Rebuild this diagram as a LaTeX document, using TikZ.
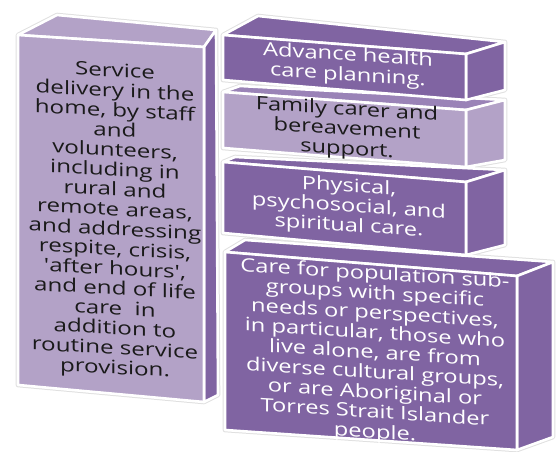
\documentclass[tikz,border=0pt]{standalone}
\usepackage{fontspec}
\setmainfont{Open Sans}
\definecolor{dkp}{HTML}{8064A2}
\definecolor{ltp}{HTML}{B3A2C7}
\definecolor{mdp}{HTML}{9A83B7}
\definecolor{txtdark}{HTML}{1A1A1A}
\begin{document}
\begin{tikzpicture}[x=1pt,y=-1pt,
  face/.style={draw=white, line width=2.6pt, line join=round},
  glow/.style={draw=black!12, line width=4.6pt, line join=round},
  txt/.style={align=center, inner sep=0pt, font=\fontsize{18.5}{19.8}\selectfont, yslant=-0.063, xscale=1.28},
  wtxt/.style={txt, text=white},
  btxt/.style={txt, text=txtdark}]
\useasboundingbox (0,0) rectangle (558,452);
% faint outer glow
\foreach \p in {
  {(18,35) -- (57,15) -- (216,30) -- (218,395) -- (204,402) -- (18,385) -- cycle},
  {(223,35) -- (258,16) -- (505,42) -- (505,90) -- (466,100) -- (223,80) -- cycle},
  {(223,92) -- (240,86) -- (505,100) -- (505,160) -- (466,167) -- (223,148) -- cycle},
  {(223,162) -- (235,157) -- (505,170) -- (505,245) -- (466,255) -- (223,233) -- cycle},
  {(225,252) -- (245,240) -- (553,262) -- (553,437) -- (517,450) -- (225,430) -- cycle}}
  {\draw[glow] \p;}
% left block
\fill[ltp, face] (18,35) -- (57,15) -- (216,30) -- (204,47) -- cycle;
\fill[dkp, face] (204,47) -- (216,30) -- (218,395) -- (204,402) -- cycle;
\fill[ltp, face] (18,35) -- (204,47) -- (204,402) -- (18,385) -- cycle;
% block 4
\fill[dkp, face] (225,252) -- (245,240) -- (553,262) -- (517,276) -- cycle;
\fill[dkp, face] (517,276) -- (553,262) -- (553,437) -- (517,450) -- cycle;
\fill[dkp, face] (225,252) -- (517,276) -- (517,450) -- (225,430) -- cycle;
% block 3
\fill[dkp, face] (223,162) -- (235,157) -- (505,170) -- (466,182) -- cycle;
\fill[dkp, face] (466,182) -- (505,170) -- (505,245) -- (466,255) -- cycle;
\fill[dkp, face] (223,162) -- (466,182) -- (466,255) -- (223,233) -- cycle;
% block 2
\fill[mdp, face] (223,92) -- (240,86) -- (505,100) -- (466,110) -- cycle;
\fill[ltp, face] (466,110) -- (505,100) -- (505,160) -- (466,167) -- cycle;
\fill[ltp, face] (223,92) -- (466,110) -- (466,167) -- (223,148) -- cycle;
% block 1
\fill[dkp, face] (223,35) -- (258,16) -- (505,42) -- (466,54) -- cycle;
\fill[dkp, face] (466,54) -- (505,42) -- (505,90) -- (466,100) -- cycle;
\fill[dkp, face] (223,35) -- (466,54) -- (466,100) -- (223,80) -- cycle;
% texts
\node[btxt, yslant=0.01, xscale=1.02] (service) at (115,221) {Service\\delivery in the\\home, by staff\\and\\volunteers,\\including in\\rural and\\remote areas,\\and addressing\\respite, crisis,\\\textquotesingle after hours\textquotesingle,\\and end of life\\care\ \ in\\addition to\\routine service\\provision.};
\node[wtxt] (acp) at (348,66) {Advance health\\care planning.};
\node[btxt] (fam) at (347,130) {Family carer and\\bereavement\\support.};
\node[wtxt] (phys) at (349,207) {Physical,\\psychosocial, and\\spiritual care.};
\node[wtxt] (pop) at (375,354) {Care for population sub-\\groups with specific\\needs or perspectives,\\in particular, those who\\live alone, are from\\diverse cultural groups,\\or are Aboriginal or\\Torres Strait Islander\\people.};
\end{tikzpicture}
\end{document}
